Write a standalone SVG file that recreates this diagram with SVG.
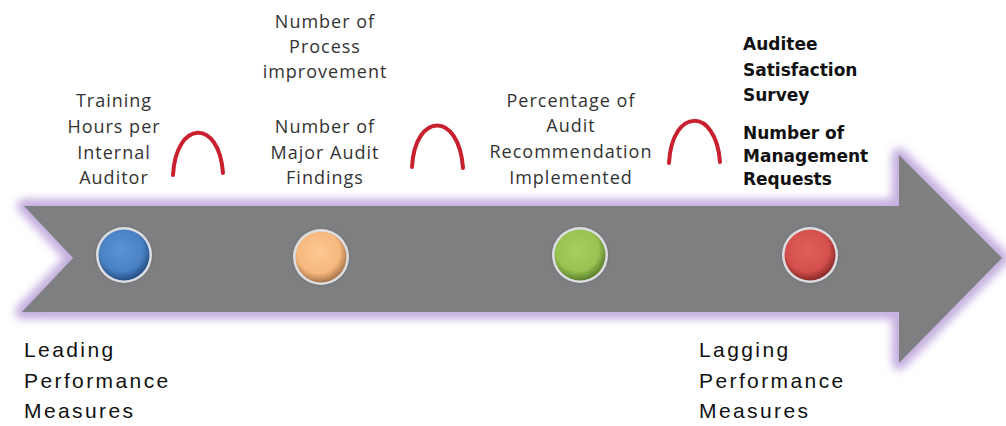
<svg xmlns="http://www.w3.org/2000/svg" width="1006" height="426" viewBox="0 0 1006 426">
<defs>
<filter id="glow" x="-10%" y="-30%" width="120%" height="160%"><feGaussianBlur stdDeviation="4"/></filter>
<filter id="soft" x="-30%" y="-30%" width="160%" height="160%"><feGaussianBlur stdDeviation="1.2"/></filter>
<radialGradient id="gBlue" cx="45%" cy="40%" r="60%"><stop offset="0" stop-color="#5b95d6"/><stop offset="0.7" stop-color="#4a82c4"/><stop offset="1" stop-color="#244f86"/></radialGradient>
<radialGradient id="gOrange" cx="45%" cy="40%" r="60%"><stop offset="0" stop-color="#fcc892"/><stop offset="0.7" stop-color="#f6b87e"/><stop offset="1" stop-color="#a8764a"/></radialGradient>
<radialGradient id="gGreen" cx="45%" cy="40%" r="60%"><stop offset="0" stop-color="#a8cf5e"/><stop offset="0.7" stop-color="#98c251"/><stop offset="1" stop-color="#5a7e2c"/></radialGradient>
<radialGradient id="gRed" cx="45%" cy="40%" r="60%"><stop offset="0" stop-color="#e0605b"/><stop offset="0.7" stop-color="#d5504c"/><stop offset="1" stop-color="#8a2a28"/></radialGradient>
</defs>
<style>
.lbl{font-family:"Open Sans","Liberation Sans",sans-serif;font-size:18px;fill:#333;letter-spacing:1px;text-anchor:middle}
.bold{font-family:"DejaVu Sans","Liberation Sans",sans-serif;font-weight:bold;font-size:17px;fill:#111}
.big{font-family:"Liberation Sans",Arial,sans-serif;font-size:21px;fill:#111;letter-spacing:2.4px}
.arc{fill:none;stroke:#c8202e;stroke-width:4;stroke-linecap:round}
.rim{fill:#eef0f4;opacity:0.85}
</style>
<rect width="1006" height="426" fill="#ffffff"/>
<g id="arrow">
<polygon points="24,206 899,206 899,155 1002,258 899,363 899,312 22,312 73,258" fill="none" stroke="#c3addf" stroke-width="14" stroke-linejoin="round" filter="url(#glow)"/>
<polygon points="24,206 899,206 899,155 1002,258 899,363 899,312 22,312 73,258" fill="#7e7f81"/>
</g>
<g id="node-blue"><circle cx="124" cy="255" r="29" fill="#6a6b6e" opacity="0.4" filter="url(#soft)"/><circle class="rim" cx="124" cy="255" r="28"/><circle cx="124" cy="255" r="25.5" fill="url(#gBlue)"/></g>
<g id="node-orange"><circle cx="321" cy="257" r="29" fill="#6a6b6e" opacity="0.4" filter="url(#soft)"/><circle class="rim" cx="321" cy="257" r="28"/><circle cx="321" cy="257" r="25.5" fill="url(#gOrange)"/></g>
<g id="node-green"><circle cx="580" cy="255" r="29" fill="#6a6b6e" opacity="0.4" filter="url(#soft)"/><circle class="rim" cx="580" cy="255" r="28"/><circle cx="580" cy="255" r="25.5" fill="url(#gGreen)"/></g>
<g id="node-red"><circle cx="810" cy="255" r="29" fill="#6a6b6e" opacity="0.4" filter="url(#soft)"/><circle class="rim" cx="810" cy="255" r="28"/><circle cx="810" cy="255" r="25.5" fill="url(#gRed)"/></g>
<g id="connectors">
<path class="arc" d="M173,175 C176,120 219,118 223,173"/>
<path class="arc" d="M412,167 C415,112 459,111 463,168"/>
<path class="arc" d="M669,163 C672,107 716,107 720,162"/>
</g>
<g id="label-training">
<text class="lbl" x="114" y="107">Training</text>
<text class="lbl" x="114" y="133">Hours per</text>
<text class="lbl" x="114" y="159">Internal</text>
<text class="lbl" x="114" y="184">Auditor</text>
</g>
<g id="label-process">
<text class="lbl" x="325" y="28">Number of</text>
<text class="lbl" x="325" y="53">Process</text>
<text class="lbl" x="325" y="78">improvement</text>
</g>
<g id="label-findings">
<text class="lbl" x="325" y="133">Number of</text>
<text class="lbl" x="325" y="159">Major Audit</text>
<text class="lbl" x="325" y="184">Findings</text>
</g>
<g id="label-percentage">
<text class="lbl" x="571" y="107">Percentage of</text>
<text class="lbl" x="571" y="132">Audit</text>
<text class="lbl" x="571" y="158">Recommendation</text>
<text class="lbl" x="571" y="184">Implemented</text>
</g>
<g id="label-auditee">
<text class="bold" x="743" y="50">Auditee</text>
<text class="bold" x="743" y="76">Satisfaction</text>
<text class="bold" x="743" y="101">Survey</text>
<text class="bold" x="743" y="139">Number of</text>
<text class="bold" x="743" y="162">Management</text>
<text class="bold" x="743" y="185">Requests</text>
</g>
<g id="label-leading">
<text class="big" x="24" y="357">Leading</text>
<text class="big" x="24" y="388">Performance</text>
<text class="big" x="24" y="418">Measures</text>
</g>
<g id="label-lagging">
<text class="big" x="699" y="357">Lagging</text>
<text class="big" x="699" y="388">Performance</text>
<text class="big" x="699" y="418">Measures</text>
</g>
</svg>
